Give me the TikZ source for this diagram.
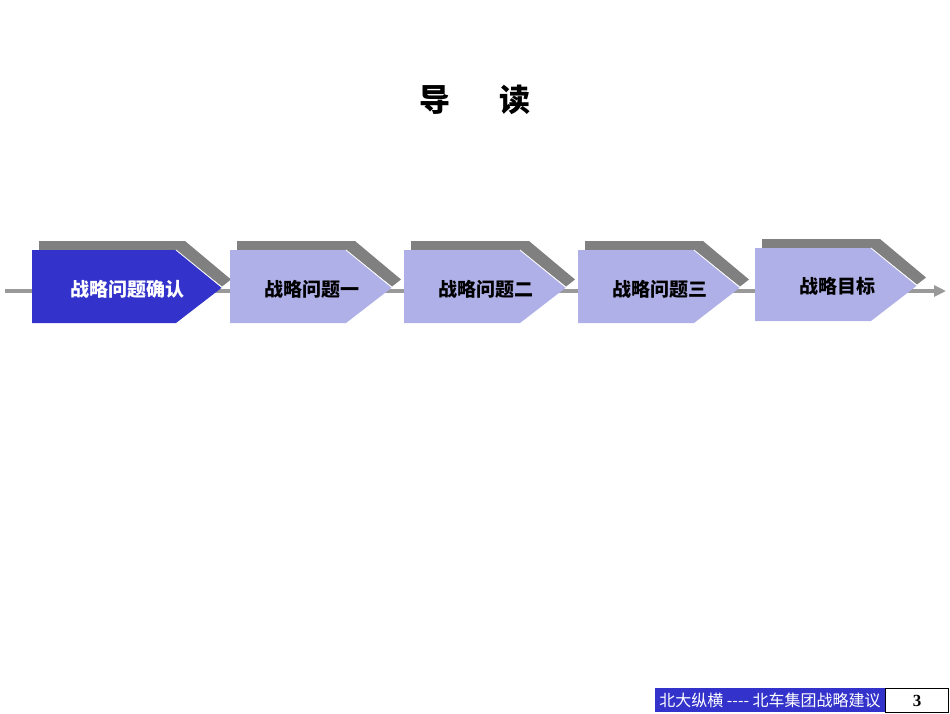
\documentclass[tikz,border=0pt]{standalone}
\usepackage{fontspec}
\usetikzlibrary{arrows.meta}
\newfontfamily\cjk{Noto Sans CJK SC}
\setmainfont{Liberation Serif}
\definecolor{dblue}{HTML}{3333CC}
\definecolor{lblue}{HTML}{B0B0E8}
\definecolor{shgray}{HTML}{808080}
\definecolor{lgray}{HTML}{999999}
\begin{document}
\begin{tikzpicture}[x=1pt,y=-1pt,
  lbl/.style={font=\cjk\bfseries\fontsize{19}{19}\selectfont,inner sep=0pt}]
\useasboundingbox (0,0) rectangle (950,713);
\fill[white] (0,0) rectangle (950,713);
\node[font=\cjk\bfseries\fontsize{31}{31}\selectfont,inner sep=0pt] (title) at (475,100) {导\hspace{1.6em}读};
% axis
\coordinate (ls) at (5,291);
\coordinate (le) at (946,291);
\draw[lgray,line width=4pt,-{Triangle[length=12pt,width=11pt]}] (ls) -- (le);
\newcommand\chev[6]{%
  \fill[shgray] (#1+7,#4-9) -- (#2+9,#4-9) -- (#3+9,{(#4+#5)/2-7}) -- (#3,{(#4+#5)/2}) -- (#2,#4) -- (#1+7,#4) -- cycle;
  \fill[#6] (#1,#4) -- (#2,#4) -- (#3,{(#4+#5)/2+1}) -- (#2,#5) -- (#1,#5) -- cycle;
  \draw[white,line width=0.8pt] (#2,#4) -- (#3,{(#4+#5)/2+1});
}
\chev{32}{176}{222}{250}{323}{dblue}
\chev{230}{346}{392}{250}{323}{lblue}
\chev{404}{520}{566}{250}{323}{lblue}
\chev{578}{694}{740}{250}{323}{lblue}
\chev{755}{871}{917}{248}{321}{lblue}
\node[lbl,text=white] (s1) at (127,289) {战略问题确认};
\node[lbl] (s2) at (312,289) {战略问题一};
\node[lbl] (s3) at (486,289) {战略问题二};
\node[lbl] (s4) at (660,289) {战略问题三};
\node[lbl] (s5) at (837,286) {战略目标};
% footer
\fill[dblue] (655,688) rectangle (885,712);
\draw[black,line width=0.6pt,fill=white] (885,688) rectangle (948,712);
\node[text=white,font=\cjk\fontsize{16}{16}\selectfont,inner sep=0pt] (f1) at (770,700) {北大纵横 ---- 北车集团战略建议};
\node[font=\bfseries\fontsize{17}{17}\selectfont,inner sep=0pt] (f2) at (917,701) {3};
\end{tikzpicture}
\end{document}
